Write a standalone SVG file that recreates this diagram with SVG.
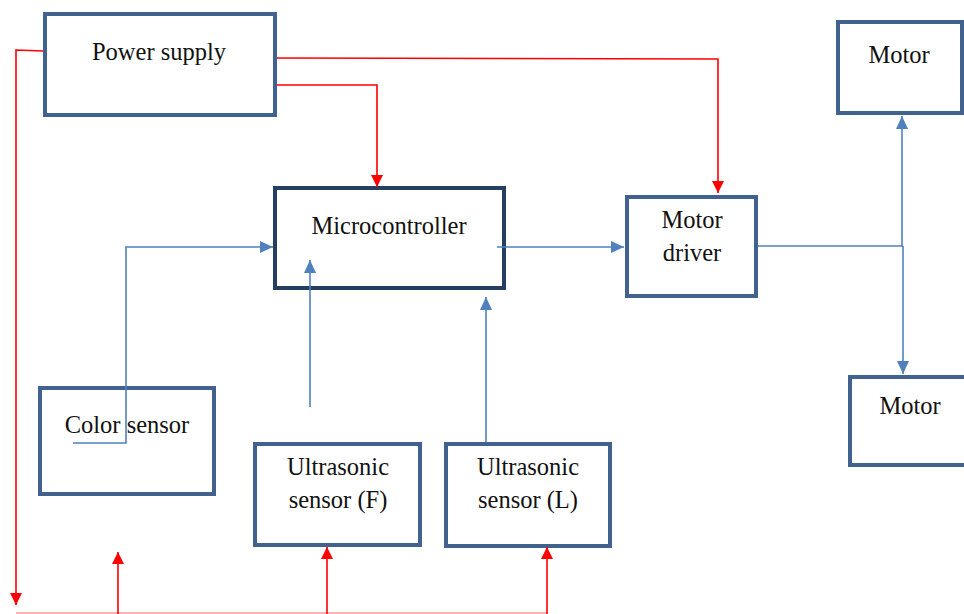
<svg xmlns="http://www.w3.org/2000/svg" width="964" height="614" viewBox="0 0 964 614">
<style>
.box{fill:#ffffff;stroke:#41628e;stroke-width:4}
.mcu{fill:#ffffff;stroke:#243f60;stroke-width:4}
.t{font-family:"Liberation Serif","Times New Roman",serif;font-size:24.5px;fill:#111111;text-anchor:middle}
.red{fill:none;stroke:#ff0000;stroke-width:1.6}
.blue{fill:none;stroke:#4f81bd;stroke-width:1.6}
</style>
<defs>
<marker id="ab" markerWidth="13" markerHeight="12" refX="13" refY="6" orient="auto" markerUnits="userSpaceOnUse"><path d="M0,0 L13,6 L0,12 z" fill="#4f81bd"/></marker>
<marker id="ar" markerWidth="12" markerHeight="12" refX="12" refY="6" orient="auto" markerUnits="userSpaceOnUse"><path d="M0,0 L12,6 L0,12 z" fill="#ff0000"/></marker>
</defs>
<rect width="964" height="614" fill="#ffffff"/>
<g id="power-supply">
<rect class="box" x="45" y="14" width="230" height="101" stroke-width="4.5"/>
<text class="t" x="159" y="60">Power supply</text>
</g>
<g id="microcontroller">
<rect class="mcu" x="275" y="188" width="229" height="100"/>
<text class="t" x="389" y="234">Microcontroller</text>
</g>
<g id="motor-driver">
<rect class="box" x="627" y="197" width="129" height="99"/>
<text class="t" x="692" y="228">Motor</text>
<text class="t" x="692" y="261">driver</text>
</g>
<g id="motor-top">
<rect class="box" x="838" y="22" width="124" height="91"/>
<text class="t" x="899" y="63">Motor</text>
</g>
<g id="motor-bottom">
<rect class="box" x="850" y="377" width="124" height="88"/>
<text class="t" x="910" y="414">Motor</text>
</g>
<g id="color-sensor">
<rect class="box" x="40" y="388" width="174" height="106"/>
<text class="t" x="127" y="433">Color sensor</text>
</g>
<g id="ultrasonic-f">
<rect class="box" x="255" y="444" width="165" height="101"/>
<text class="t" x="338" y="475">Ultrasonic</text>
<text class="t" x="338" y="508">sensor (F)</text>
</g>
<g id="ultrasonic-l">
<rect class="box" x="446" y="444" width="164" height="102"/>
<text class="t" x="528" y="475">Ultrasonic</text>
<text class="t" x="528" y="508">sensor (L)</text>
</g>
<g id="connectors">
<path class="red" d="M43,51 L16,50 L16,605" marker-end="url(#ar)"/>
<path class="red" d="M277,58 L718,59 L718,193" marker-end="url(#ar)"/>
<path class="red" d="M277,85 L377,85 L377,187" marker-end="url(#ar)"/>
<path d="M16,613 L547,613" fill="none" stroke="#ff9a9a" stroke-width="1.6"/>
<path class="red" d="M118,614 L118,552" marker-end="url(#ar)"/>
<path class="red" d="M327,614 L327,547" marker-end="url(#ar)"/>
<path class="red" d="M547,614 L547,547" marker-end="url(#ar)"/>
<path class="blue" d="M73,443 L126,443 L126,247 L273,247" marker-end="url(#ab)"/>
<path class="blue" d="M497,247 L624,247" marker-end="url(#ab)"/>
<path class="blue" d="M310,407 L310,260" marker-end="url(#ab)"/>
<path class="blue" d="M486,442 L486,297" marker-end="url(#ab)"/>
<path class="blue" d="M758,246 L903,246"/>
<path class="blue" d="M902,246 L902,116" marker-end="url(#ab)"/>
<path class="blue" d="M903,246 L903,374" marker-end="url(#ab)"/>
</g>
</svg>
